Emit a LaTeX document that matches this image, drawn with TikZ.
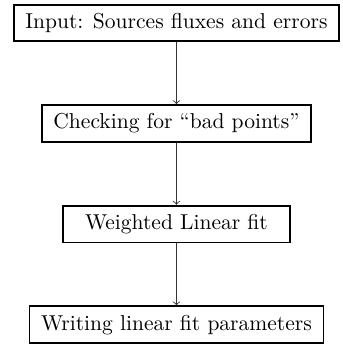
\documentclass[tikz,border=0pt]{standalone}
\usetikzlibrary{positioning}
\begin{document}
\begin{tikzpicture}%
	[node distance=28.8pt,
	stepbox/.style={draw=black, thick, rectangle, inner xsep=5.4pt, inner ysep=4pt},
	flow/.style={->, color=black!80, thin}]
%
%% Drawing the boxes
%%
\node[stepbox] (input) {Input: Sources fluxes and errors};
\node[stepbox, below=of input] (check) {Checking for ``bad points''};
\node[stepbox, below=of check, minimum width=105.5pt] (fit) {Weighted Linear fit};
\node[stepbox, below=of fit] (output) {Writing linear fit parameters};
%%
%% Drawing the arrows
%%
\draw[flow] (input) -- (check);
\draw[flow] (check) -- (fit);
\draw[flow] (fit) -- (output);
%%
\useasboundingbox ([xshift=-6pt, yshift=1.8pt]input.north west) rectangle ([xshift=1pt, yshift=-0.5pt]output.south -| input.east);
\end{tikzpicture}
\end{document}
